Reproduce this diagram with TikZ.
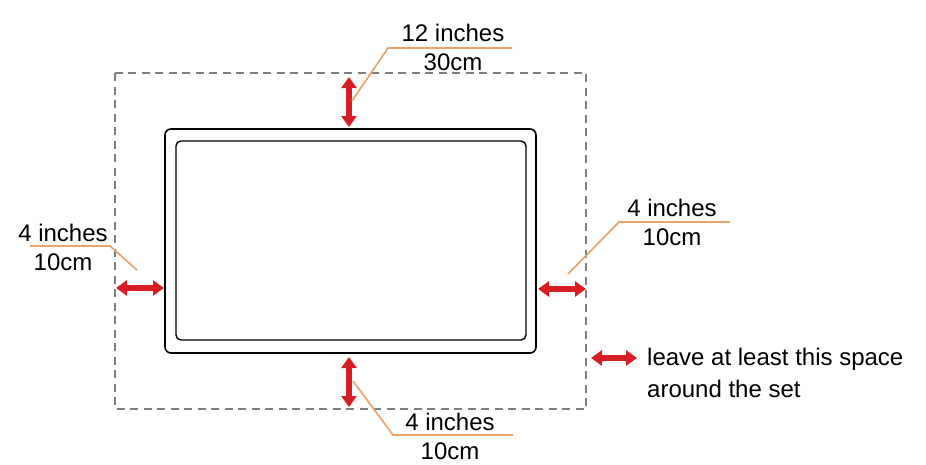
\documentclass[tikz,border=0pt]{standalone}
\usepackage{fontspec}
\setmainfont{Liberation Sans}
\usetikzlibrary{arrows.meta}
\definecolor{redarrow}{HTML}{D81E25}
\definecolor{leader}{HTML}{E8A46A}
\definecolor{dashgray}{HTML}{7F7F7F}
\tikzset{
  x=1pt,y=-1pt,
  gap/.style={draw=redarrow,line width=5.2pt,{Triangle[width=15pt,length=11pt]}-{Triangle[width=15pt,length=11pt]}},
  lead/.style={draw=leader,line width=1.7pt},
  lbl/.style={font=\fontsize{24}{28}\selectfont,inner sep=0pt,anchor=center},
  frame/.style={draw=black,line width=1.6pt,rounded corners=6pt}
}
\begin{document}
\begin{tikzpicture}
\useasboundingbox (0,0) rectangle (926,464);
% clearance boundary
\draw[dashgray,line width=2.8pt,dash pattern=on 8pt off 5.5pt] (115,73) rectangle (586,409);
% TV set
\node[frame,minimum width=371pt,minimum height=224pt,inner sep=0pt] (tv) at (350.5,241) {};
\node[frame,line width=1.4pt,rounded corners=5pt,minimum width=350pt,minimum height=199pt,inner sep=0pt] (screen) at (351,240.5) {};
% coordinates for arrows
\coordinate (t1) at (349,77); \coordinate (t2) at (349,127);
\coordinate (b1) at (349,357); \coordinate (b2) at (349,407);
\coordinate (l1) at (116,288); \coordinate (l2) at (164,288);
\coordinate (r1) at (538,289); \coordinate (r2) at (586,289);
\coordinate (g1) at (591,358); \coordinate (g2) at (637,358);
\draw[gap] (t1) -- (t2);
\draw[gap] (b1) -- (b2);
\draw[gap] (l1) -- (l2);
\draw[gap] (r1) -- (r2);
\draw[gap] (g1) -- (g2);
% leaders
\coordinate (tl0) at (352,101); \coordinate (tl1) at (388,48); \coordinate (tl2) at (512,48);
\coordinate (ll0) at (137,270); \coordinate (ll1) at (110,246); \coordinate (ll2) at (30,246);
\coordinate (rl0) at (568,274); \coordinate (rl1) at (619,222); \coordinate (rl2) at (730,222);
\coordinate (bl0) at (353,381); \coordinate (bl1) at (393,435); \coordinate (bl2) at (513,435);
\draw[lead] (tl0) -- (tl1) -- (tl2);
\draw[lead] (ll0) -- (ll1) -- (ll2);
\draw[lead] (rl0) -- (rl1) -- (rl2);
\draw[lead] (bl0) -- (bl1) -- (bl2);
% labels
\node[lbl] (ttop) at (453,33) {12 inches};
\node[lbl] (tbot) at (453,62) {30cm};
\node[lbl] (ltop) at (63,233) {4 inches};
\node[lbl] (lbot) at (63,262) {10cm};
\node[lbl] (rtop) at (672,208) {4 inches};
\node[lbl] (rbot) at (672,237) {10cm};
\node[lbl] (btop) at (450,422) {4 inches};
\node[lbl] (bbot) at (450,451) {10cm};
\node[lbl,anchor=west] (leg1) at (647,359) {leave at least this space};
\node[lbl,anchor=west] (leg2) at (647,389) {around the set};
\end{tikzpicture}
\end{document}
